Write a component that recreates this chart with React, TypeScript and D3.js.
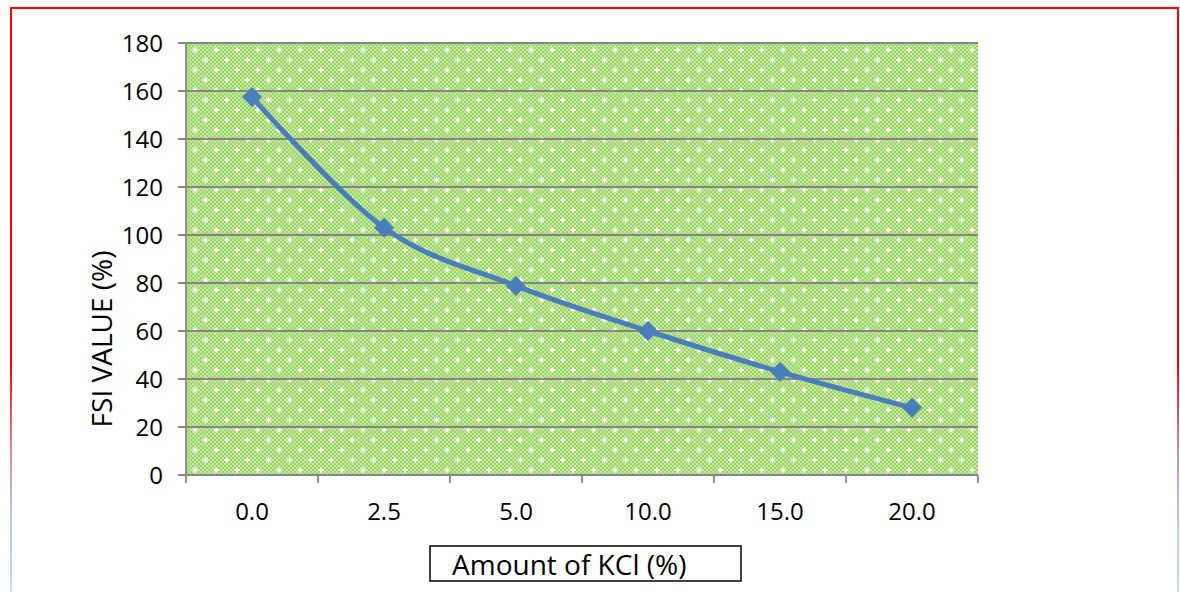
import React from "react";
import * as d3 from "d3";

const categories = ["0.0", "2.5", "5.0", "10.0", "15.0", "20.0"];
const fsiValues = [157.5, 103, 78.8, 60, 43, 28];
const yTicks = [0, 20, 40, 60, 80, 100, 120, 140, 160, 180];

const W = 1180;
const H = 592;
const plot = { left: 186, right: 978, top: 43, bottom: 475 };
const FONT = "'Open Sans', Calibri, sans-serif";

export default function App() {
  const x = d3
    .scaleBand<string>()
    .domain(categories)
    .range([plot.left, plot.right])
    .paddingInner(0)
    .paddingOuter(0);
  const y = d3.scaleLinear().domain([0, 180]).range([plot.bottom, plot.top]);

  const pts: [number, number][] = categories.map((c, i) => [
    (x(c) as number) + x.bandwidth() / 2,
    y(fsiValues[i]),
  ]);
  const line = d3.line().curve(d3.curveCardinal.tension(0))(pts) || "";

  const bandEdges = categories.map((c) => x(c) as number).concat([plot.right]);

  // small four-pointed sparkle used in the plot-area fill
  const star = (cx: number, cy: number) =>
    `M${cx},${cy - 3.6} L${cx + 1.1},${cy - 1.1} L${cx + 3.6},${cy} L${cx + 1.1},${cy + 1.1} L${cx},${cy + 3.6} L${cx - 1.1},${cy + 1.1} L${cx - 3.6},${cy} L${cx - 1.1},${cy - 1.1} Z`;

  const diamond = (cx: number, cy: number, r: number) =>
    `M${cx},${cy - r} L${cx + r},${cy} L${cx},${cy + r} L${cx - r},${cy} Z`;

  return (
    <svg
      width={W}
      height={H}
      style={{ position: "absolute", left: 0, top: 0, display: "block", background: "#fff" }}
    >
      <defs>
        <pattern id="check" width="4" height="4" patternUnits="userSpaceOnUse" x={plot.left} y={plot.top}>
          <rect width="4" height="4" fill="#c4e7a2" />
          <rect width="2" height="2" fill="#9cd468" />
          <rect x="2" y="2" width="2" height="2" fill="#9cd468" />
        </pattern>
        <pattern id="stars" width="21" height="20" patternUnits="userSpaceOnUse" x={plot.left + 9} y={plot.top + 7}>
          <path d={star(0, 0)} fill="#ffffff" />
          <path d={star(21, 0)} fill="#ffffff" />
          <path d={star(0, 20)} fill="#ffffff" />
          <path d={star(21, 20)} fill="#ffffff" />
          <path d={star(10.5, 10)} fill="#ffffff" />
        </pattern>
        <linearGradient id="edge" x1="0" y1="0" x2="0" y2="1">
          <stop offset="0" stopColor="#ff0000" />
          <stop offset="0.6" stopColor="#f00000" />
          <stop offset="0.76" stopColor="#d090a8" />
          <stop offset="0.88" stopColor="#b4cce8" />
          <stop offset="1" stopColor="#c8dcf0" />
        </linearGradient>
      </defs>

      {/* outer frame */}
      <line x1={10} x2={1179} y1={8} y2={8} stroke="#ff0000" strokeWidth={2} />
      <rect x={10} y={7} width={2} height={H - 7} fill="url(#edge)" />
      <rect x={1177} y={7} width={2} height={H - 7} fill="url(#edge)" />

      {/* plot area fill */}
      <rect
        x={plot.left}
        y={plot.top}
        width={plot.right - plot.left}
        height={plot.bottom - plot.top}
        fill="url(#check)"
      />
      <rect
        x={plot.left}
        y={plot.top}
        width={plot.right - plot.left}
        height={plot.bottom - plot.top}
        fill="url(#stars)"
      />

      {/* gridlines and y ticks */}
      {yTicks.map((t) => (
        <g key={t}>
          <line
            x1={plot.left - 8}
            x2={plot.right}
            y1={y(t)}
            y2={y(t)}
            stroke="#868686"
            strokeWidth={1.8}
          />
          <text
            x={163}
            y={y(t)}
            dy="0.36em"
            textAnchor="end"
            fontFamily={FONT}
            fontSize={24}
            fill="#000"
          >
            {t}
          </text>
        </g>
      ))}

      {/* axes */}
      <line x1={plot.left} x2={plot.left} y1={plot.top} y2={plot.bottom} stroke="#868686" strokeWidth={1.8} />
      {bandEdges.map((e, i) => (
        <line key={i} x1={e} x2={e} y1={plot.bottom} y2={plot.bottom + 8} stroke="#868686" strokeWidth={1.8} />
      ))}
      {categories.map((c) => (
        <text
          key={c}
          x={(x(c) as number) + x.bandwidth() / 2}
          y={520}
          textAnchor="middle"
          fontFamily={FONT}
          fontSize={24}
          fill="#000"
        >
          {c}
        </text>
      ))}

      {/* series */}
      <path d={line} fill="none" stroke="#4a7ebb" strokeWidth={5} strokeLinejoin="round" />
      {pts.map(([px, py], i) => (
        <path key={i} d={diamond(px, py, 10)} fill="#4a7ebb" />
      ))}

      {/* y-axis title */}
      <text
        transform={`translate(112, 339) rotate(-90)`}
        textAnchor="middle"
        fontFamily={FONT}
        fontSize={28}
        fill="#000"
      >
        FSI VALUE (%)
      </text>

      {/* x-axis title in a boxed caption */}
      <rect x={430} y={546} width={311} height={35} fill="#fff" stroke="#000" strokeWidth={1.5} />
      <text x={452} y={575} fontFamily={FONT} fontSize={28} fill="#000">
        Amount of KCl (%)
      </text>
    </svg>
  );
}
